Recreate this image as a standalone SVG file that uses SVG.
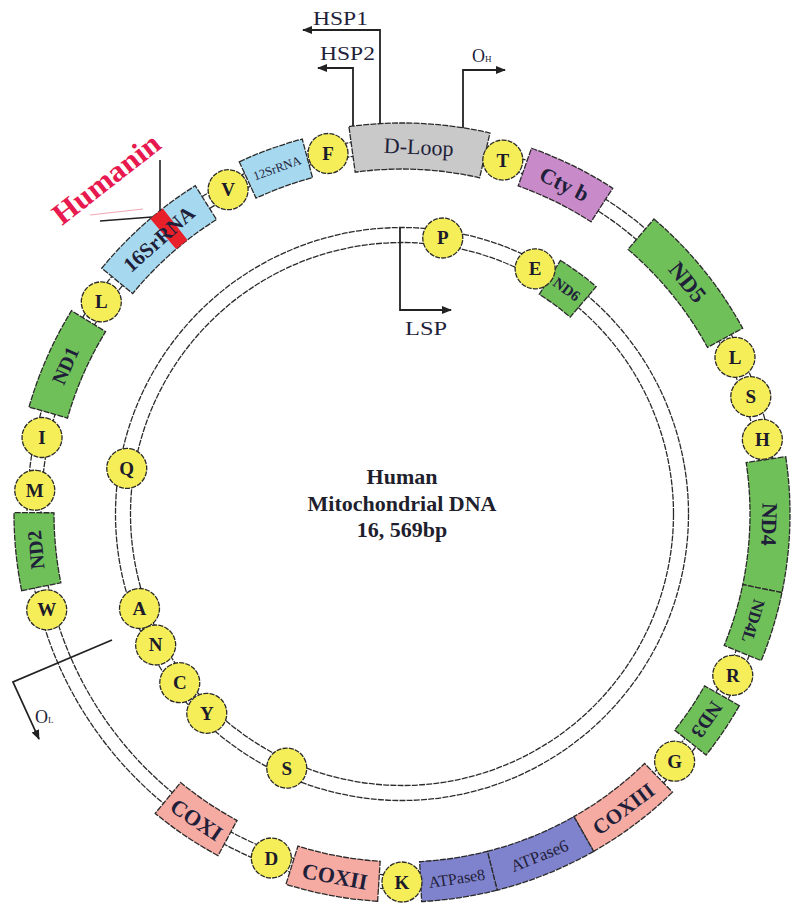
<svg xmlns="http://www.w3.org/2000/svg" width="800" height="917" viewBox="0 0 800 917">
<style>
.trk{fill:none;stroke:#2b2b2b;stroke-width:1.3;stroke-dasharray:6 1.2}
.box{stroke:#2b2b2b;stroke-width:1.3;stroke-dasharray:6 1.2}
.aa{fill:#f6ee58;stroke:#2b2b2b;stroke-width:1.3;stroke-dasharray:5 1.2}
.lt{font-family:"Liberation Serif","Times New Roman",serif;font-weight:bold;font-size:19px;text-anchor:middle;fill:#1b1b2b}
.gl{font-family:"Liberation Serif","Times New Roman",serif;text-anchor:middle;fill:#1f1f3a}
.b{font-weight:bold}
.lb{font-family:"Liberation Serif","Times New Roman",serif;font-size:18px;fill:#1f1f3a}
.ct{font-family:"Liberation Serif","Times New Roman",serif;font-weight:bold;font-size:22px;text-anchor:middle;fill:#1f1f2e}
.arr{fill:none;stroke:#222;stroke-width:1.8}
.grn{fill:#70c05a}.blu{fill:#a6d9ef}.sal{fill:#f5aaa2}.atp{fill:#7f82cc}
</style>
<defs>
<marker id="ah" viewBox="0 0 10 10" refX="9" refY="5" markerWidth="10" markerHeight="10" markerUnits="userSpaceOnUse" orient="auto">
<path d="M0,1 L10,5 L0,9 z" fill="#222"/>
</marker>
</defs>
<rect width="800" height="917" fill="#fff"/>
<g id="tracks">
<circle class="trk" cx="402" cy="514" r="361"/>
<circle class="trk" cx="402" cy="514" r="375"/>
<circle class="trk" cx="402" cy="514" r="271.5"/>
<circle class="trk" cx="402" cy="514" r="286.5"/>
</g>
<g id="dloop" transform="rotate(2.6 402 514)">
<path class="box" fill="#c9c9c9" d="M331.42,129.42 A391,391 0 0 1 472.58,129.42 L464.28,174.67 A345,345 0 0 0 339.72,174.67 Z"/>
<text class="gl" x="402" y="154" font-size="22">D-Loop</text>
</g>
<g id="cytb" transform="rotate(26.2 402 514)">
<path class="box" fill="#c98ac9" d="M356.73,128.65 A388,388 0 0 1 447.27,128.65 L442.6,168.38 A348,348 0 0 0 361.4,168.38 Z"/>
<text class="gl b" x="402" y="154" font-size="22">Cty b</text>
</g>
<g id="nd5" transform="rotate(50.95 402 514)">
<path class="box grn" d="M331.63,132.44 A388,388 0 0 1 472.37,132.44 L465.12,171.77 A348,348 0 0 0 338.88,171.77 Z"/>
<text class="gl b" x="402" y="154" font-size="23">ND5</text>
</g>
<g id="nd4" transform="rotate(91.6 402 514)">
<path class="box grn" d="M333.96,132.01 A388,388 0 0 1 470.04,132.01 L463.03,171.39 A348,348 0 0 0 340.97,171.39 Z"/>
<text class="gl b" x="402" y="154" font-size="22">ND4</text>
</g>
<g id="nd4l" transform="rotate(106.95 402 514)">
<path class="box grn" d="M366.5,127.63 A388,388 0 0 1 437.5,127.63 L433.84,167.46 A348,348 0 0 0 370.16,167.46 Z"/>
<text class="gl b" x="402" y="152.5" font-size="17">ND4L</text>
</g>
<g id="nd3" transform="rotate(124 402 514)">
<path class="box grn" d="M372.23,127.14 A388,388 0 0 1 431.77,127.14 L428.7,167.03 A348,348 0 0 0 375.3,167.03 Z"/>
<text class="gl b" x="402" y="153" font-size="20">ND3</text>
</g>
<g id="coxiii" transform="rotate(143.1 402 514)">
<path class="box sal" d="M352.69,129.15 A388,388 0 0 1 451.31,129.15 L446.22,168.82 A348,348 0 0 0 357.78,168.82 Z"/>
<text class="gl b" x="402" y="154" font-size="21" transform="rotate(180 402 146)">COXIII</text>
</g>
<g id="atpase6" transform="rotate(158.1 402 514)">
<path class="box atp" d="M350.01,129.5 A388,388 0 0 1 453.99,129.5 L448.63,169.14 A348,348 0 0 0 355.37,169.14 Z"/>
<text class="gl" x="402" y="152" font-size="17" transform="rotate(180 402 146)">ATPase6</text>
</g>
<g id="atpase8" transform="rotate(171.45 402 514)">
<path class="box atp" d="M363.8,127.89 A388,388 0 0 1 440.2,127.89 L436.26,167.69 A348,348 0 0 0 367.74,167.69 Z"/>
<text class="gl" x="402" y="152" font-size="16" transform="rotate(180 402 146)">ATPase8</text>
</g>
<g id="coxii" transform="rotate(190.5 402 514)">
<path class="box sal" d="M355.39,128.81 A388,388 0 0 1 448.61,128.81 L443.81,168.52 A348,348 0 0 0 360.19,168.52 Z"/>
<text class="gl b" x="402" y="154" font-size="22" transform="rotate(180 402 146)">COXII</text>
</g>
<g id="coxi" transform="rotate(213.9 402 514)">
<path class="box sal" d="M364.14,127.85 A388,388 0 0 1 439.86,127.85 L435.96,167.66 A348,348 0 0 0 368.04,167.66 Z"/>
<text class="gl b" x="402" y="154" font-size="22" transform="rotate(180 402 146)">COXI</text>
</g>
<g id="nd2" transform="rotate(264.4 402 514)">
<path class="box grn" d="M362.79,127.99 A388,388 0 0 1 441.21,127.99 L437.17,167.78 A348,348 0 0 0 366.83,167.78 Z"/>
<text class="gl b" x="402" y="153" font-size="20">ND2</text>
</g>
<g id="nd1" transform="rotate(293.8 402 514)">
<path class="box grn" d="M349.34,129.59 A388,388 0 0 1 454.66,129.59 L449.23,169.22 A348,348 0 0 0 354.77,169.22 Z"/>
<text class="gl b" x="402" y="153" font-size="20">ND1</text>
</g>
<g id="rrna16s" transform="rotate(318.55 402 514)">
<path class="box blu" d="M339.63,131.04 A388,388 0 0 1 464.37,131.04 L457.94,170.52 A348,348 0 0 0 346.06,170.52 Z"/>
<path fill="#e8202a" transform="rotate(2.2 402 514)" d="M393.87,126.09 A388,388 0 0 1 410.13,126.09 L409.29,166.08 A348,348 0 0 0 394.71,166.08 Z"/>
<text class="gl b" x="402" y="154" font-size="21">16SrRNA</text>
</g>
<g id="rrna12s" transform="rotate(340.15 402 514)">
<path class="box blu" d="M368.52,127.45 A388,388 0 0 1 435.48,127.45 L432.03,167.3 A348,348 0 0 0 371.97,167.3 Z"/>
<text class="gl" x="402" y="150.5" font-size="12.5">12SrRNA</text>
</g>
<g id="tT" transform="rotate(15.9 402 514)"><circle class="aa" cx="402" cy="146" r="20"/><text class="lt" x="402" y="152.5" transform="rotate(-15.9 402 146)">T</text></g>
<g id="tL2" transform="rotate(64.8 402 514)"><circle class="aa" cx="402" cy="146" r="20"/><text class="lt" x="402" y="152.5" transform="rotate(-64.8 402 146)">L</text></g>
<g id="tS2" transform="rotate(71.4 402 514)"><circle class="aa" cx="402" cy="146" r="20"/><text class="lt" x="402" y="152.5" transform="rotate(-71.4 402 146)">S</text></g>
<g id="tH" transform="rotate(78.3 402 514)"><circle class="aa" cx="402" cy="146" r="20"/><text class="lt" x="402" y="152.5" transform="rotate(-78.3 402 146)">H</text></g>
<g id="tR" transform="rotate(116 402 514)"><circle class="aa" cx="402" cy="146" r="20"/><text class="lt" x="402" y="152.5" transform="rotate(-116 402 146)">R</text></g>
<g id="tG" transform="rotate(132.2 402 514)"><circle class="aa" cx="402" cy="146" r="20"/><text class="lt" x="402" y="152.5" transform="rotate(-132.2 402 146)">G</text></g>
<g id="tK" transform="rotate(180 402 514)"><circle class="aa" cx="402" cy="146" r="20"/><text class="lt" x="402" y="152.5" transform="rotate(-180 402 146)">K</text></g>
<g id="tD" transform="rotate(200.8 402 514)"><circle class="aa" cx="402" cy="146" r="20"/><text class="lt" x="402" y="152.5" transform="rotate(-200.8 402 146)">D</text></g>
<g id="tW" transform="rotate(254.9 402 514)"><circle class="aa" cx="402" cy="146" r="20"/><text class="lt" x="402" y="152.5" transform="rotate(-254.9 402 146)">W</text></g>
<g id="tM" transform="rotate(273.7 402 514)"><circle class="aa" cx="402" cy="146" r="20"/><text class="lt" x="402" y="152.5" transform="rotate(-273.7 402 146)">M</text></g>
<g id="tI" transform="rotate(282 402 514)"><circle class="aa" cx="402" cy="146" r="20"/><text class="lt" x="402" y="152.5" transform="rotate(-282 402 146)">I</text></g>
<g id="tL1" transform="rotate(305.2 402 514)"><circle class="aa" cx="402" cy="146" r="20"/><text class="lt" x="402" y="152.5" transform="rotate(-305.2 402 146)">L</text></g>
<g id="tV" transform="rotate(331.8 402 514)"><circle class="aa" cx="402" cy="146" r="20"/><text class="lt" x="402" y="152.5" transform="rotate(-331.8 402 146)">V</text></g>
<g id="tF" transform="rotate(348.4 402 514)"><circle class="aa" cx="402" cy="146" r="20"/><text class="lt" x="402" y="152.5" transform="rotate(-348.4 402 146)">F</text></g>
<g id="nd6" transform="rotate(36.25 402 514)">
<path class="box grn" d="M379.84,215.82 A299,299 0 0 1 424.16,215.82 L421.19,255.71 A259,259 0 0 0 382.81,255.71 Z"/>
<text class="gl b" x="402" y="240.5" font-size="15">ND6</text>
</g>
<g id="tP" transform="rotate(8.4 402 514)"><circle class="aa" cx="402" cy="235" r="20"/><text class="lt" x="402" y="241.5" transform="rotate(-8.4 402 235)">P</text></g>
<g id="tE" transform="rotate(28.5 402 514)"><circle class="aa" cx="402" cy="235" r="20"/><text class="lt" x="402" y="241.5" transform="rotate(-28.5 402 235)">E</text></g>
<g id="tQ" transform="rotate(279.4 402 514)"><circle class="aa" cx="402" cy="235" r="20"/><text class="lt" x="402" y="241.5" transform="rotate(-279.4 402 235)">Q</text></g>
<g id="tA" transform="rotate(250.2 402 514)"><circle class="aa" cx="402" cy="235" r="20"/><text class="lt" x="402" y="241.5" transform="rotate(-250.2 402 235)">A</text></g>
<g id="tN" transform="rotate(242 402 514)"><circle class="aa" cx="402" cy="235" r="20"/><text class="lt" x="402" y="241.5" transform="rotate(-242 402 235)">N</text></g>
<g id="tC" transform="rotate(232.8 402 514)"><circle class="aa" cx="402" cy="235" r="20"/><text class="lt" x="402" y="241.5" transform="rotate(-232.8 402 235)">C</text></g>
<g id="tY" transform="rotate(224.4 402 514)"><circle class="aa" cx="402" cy="235" r="20"/><text class="lt" x="402" y="241.5" transform="rotate(-224.4 402 235)">Y</text></g>
<g id="tS1" transform="rotate(204.4 402 514)"><circle class="aa" cx="402" cy="235" r="20"/><text class="lt" x="402" y="241.5" transform="rotate(-204.4 402 235)">S</text></g>
<g id="title">
<text class="ct" x="402" y="484">Human</text>
<text class="ct" x="402" y="511">Mitochondrial DNA</text>
<text class="ct" x="402" y="537">16, 569bp</text>
</g>
<g id="humanin">
<line x1="90" y1="215" x2="143" y2="209" stroke="#f2a6b6" stroke-width="1.2"/>
<line x1="100" y1="221" x2="152" y2="217" stroke="#222" stroke-width="1.6"/>
<line x1="160" y1="160" x2="160" y2="211" stroke="#222" stroke-width="1.6"/>
<text x="62" y="226" transform="rotate(-38 62 226)" font-family="Liberation Serif, Times New Roman, serif" font-weight="bold" font-size="30" fill="#e8194f" textLength="128" lengthAdjust="spacingAndGlyphs">Humanin</text>
</g>
<g id="connectors">
<path class="arr" d="M380,124 V30 H303" marker-end="url(#ah)"/>
<path class="arr" d="M353,126 V68 H318" marker-end="url(#ah)"/>
<path class="arr" d="M463,128 V70 H505" marker-end="url(#ah)"/>
<path class="arr" d="M400,228 V310 H451" marker-end="url(#ah)"/>
<path class="arr" d="M112,640 L13,682 L39,739" marker-end="url(#ah)"/>
</g>
<g id="labels">
<text class="lb" x="313" y="25" textLength="55" lengthAdjust="spacingAndGlyphs">HSP1</text>
<text class="lb" x="320" y="60" textLength="55" lengthAdjust="spacingAndGlyphs">HSP2</text>
<text class="lb" x="405" y="335" textLength="42" lengthAdjust="spacingAndGlyphs">LSP</text>
<text class="lb" x="472" y="62" font-size="19">O<tspan font-size="9">H</tspan></text>
<text class="lb" x="35" y="723" font-size="19">O<tspan font-size="9">L</tspan></text>
</g>
</svg>
